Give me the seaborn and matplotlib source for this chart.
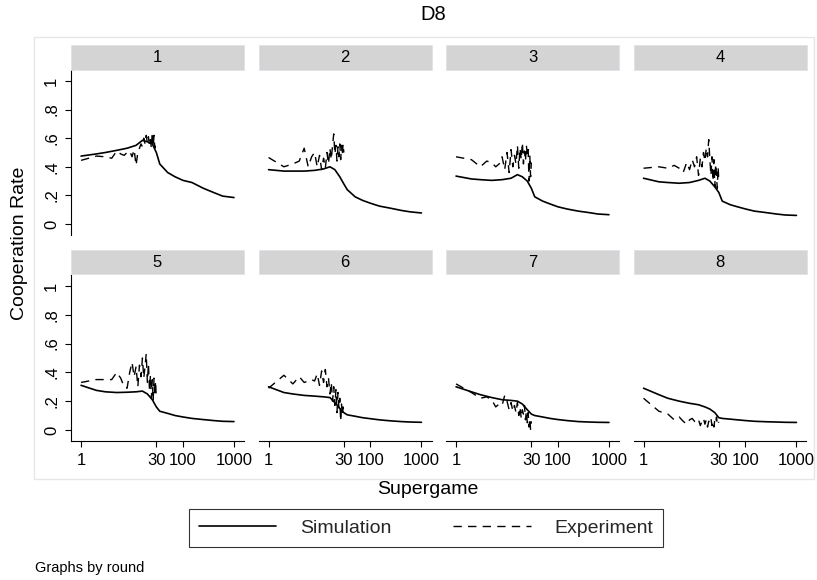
import matplotlib
matplotlib.use("Agg")
import matplotlib.pyplot as plt
from matplotlib.patches import Rectangle
from matplotlib.lines import Line2D
from matplotlib.ticker import FixedLocator, NullLocator, FixedFormatter
import numpy as np
import pandas as pd
import seaborn as sns

sns.set_theme(style="white")
plt.rcParams["font.family"] = ["Liberation Sans", "DejaVu Sans"]

# ---- data -------------------------------------------------------------
rounds = [1, 2, 3, 4, 5, 6, 7, 8]

sim_supergame = [1, 2, 3, 5, 8, 12, 16, 20, 25, 30, 35, 50, 70, 100, 150, 250, 400, 600, 1000]
sim_r1 = [0.475, 0.49, 0.50, 0.515, 0.53, 0.55, 0.585, 0.575, 0.56, 0.50, 0.42, 0.36, 0.33, 0.305, 0.29, 0.25, 0.22, 0.195, 0.185]
sim_r2 = [0.38, 0.37, 0.37, 0.37, 0.375, 0.385, 0.40, 0.38, 0.33, 0.28, 0.24, 0.19, 0.165, 0.145, 0.125, 0.11, 0.095, 0.085, 0.077]
sim_r3 = [0.335, 0.315, 0.31, 0.305, 0.31, 0.32, 0.345, 0.33, 0.30, 0.25, 0.19, 0.16, 0.14, 0.12, 0.105, 0.09, 0.08, 0.07, 0.065]
sim_r4 = [0.32, 0.295, 0.29, 0.285, 0.29, 0.305, 0.32, 0.30, 0.26, 0.22, 0.16, 0.135, 0.12, 0.105, 0.09, 0.08, 0.07, 0.063, 0.06]
sim_r5 = [0.31, 0.275, 0.265, 0.26, 0.262, 0.265, 0.27, 0.25, 0.21, 0.16, 0.13, 0.115, 0.10, 0.09, 0.08, 0.072, 0.065, 0.06, 0.058]
sim_r6 = [0.30, 0.26, 0.25, 0.24, 0.235, 0.23, 0.225, 0.19, 0.15, 0.12, 0.105, 0.095, 0.085, 0.078, 0.07, 0.063, 0.058, 0.055, 0.053]
sim_r7 = [0.30, 0.265, 0.245, 0.225, 0.21, 0.205, 0.20, 0.18, 0.14, 0.11, 0.10, 0.09, 0.08, 0.072, 0.065, 0.058, 0.055, 0.053, 0.052]
sim_r8 = [0.29, 0.245, 0.22, 0.20, 0.185, 0.175, 0.16, 0.145, 0.12, 0.085, 0.08, 0.075, 0.07, 0.065, 0.06, 0.057, 0.055, 0.053, 0.052]

exp_supergame = list(range(1, 31))
exp_r1 = [0.445, 0.475, 0.47, 0.46, 0.51, 0.49, 0.48, 0.50, 0.51, 0.47, 0.52, 0.41, 0.50, 0.53, 0.56,
          0.54, 0.60, 0.56, 0.62, 0.57, 0.61, 0.55, 0.59, 0.53, 0.64, 0.54, 0.62, 0.53, 0.57, 0.55]
exp_r2 = [0.465, 0.40, 0.42, 0.44, 0.53, 0.40, 0.47, 0.50, 0.40, 0.48, 0.38, 0.46, 0.39, 0.50, 0.42,
          0.53, 0.45, 0.55, 0.63, 0.49, 0.55, 0.44, 0.54, 0.47, 0.56, 0.45, 0.55, 0.48, 0.56, 0.50]
exp_r3 = [0.47, 0.45, 0.40, 0.44, 0.43, 0.40, 0.42, 0.47, 0.38, 0.50, 0.36, 0.52, 0.40, 0.48, 0.42,
          0.55, 0.39, 0.53, 0.45, 0.57, 0.42, 0.51, 0.44, 0.55, 0.48, 0.52, 0.30, 0.48, 0.33, 0.43]
exp_r4 = [0.39, 0.40, 0.39, 0.41, 0.39, 0.36, 0.43, 0.38, 0.45, 0.40, 0.47, 0.34, 0.46, 0.40, 0.50,
          0.44, 0.53, 0.47, 0.59, 0.45, 0.34, 0.47, 0.30, 0.45, 0.26, 0.42, 0.33, 0.25, 0.40, 0.30]
exp_r5 = [0.33, 0.35, 0.35, 0.35, 0.40, 0.36, 0.30, 0.29, 0.40, 0.47, 0.37, 0.44, 0.30, 0.45, 0.37,
          0.50, 0.36, 0.44, 0.53, 0.33, 0.46, 0.28, 0.38, 0.22, 0.35, 0.20, 0.36, 0.24, 0.34, 0.21]
exp_r6 = [0.29, 0.38, 0.32, 0.37, 0.33, 0.34, 0.35, 0.34, 0.39, 0.31, 0.41, 0.33, 0.42, 0.30, 0.36,
          0.25, 0.33, 0.20, 0.30, 0.17, 0.28, 0.12, 0.26, 0.15, 0.22, 0.06, 0.18, 0.10, 0.16, 0.12]
exp_r7 = [0.32, 0.26, 0.22, 0.23, 0.21, 0.16, 0.18, 0.17, 0.24, 0.20, 0.14, 0.19, 0.13, 0.17, 0.12,
          0.19, 0.10, 0.16, 0.08, 0.14, 0.11, 0.17, 0.07, 0.13, 0.05, 0.12, 0.02, 0.08, 0.00, 0.06]
exp_r8 = [0.22, 0.13, 0.11, 0.07, 0.09, 0.06, 0.04, 0.07, 0.08, 0.06, 0.05, 0.07, 0.03, 0.06, 0.08,
          0.04, 0.07, 0.02, 0.06, 0.05, 0.08, 0.03, 0.06, 0.02, 0.07, 0.05, 0.09, 0.04, 0.06, 0.05]

sim_series = [sim_r1, sim_r2, sim_r3, sim_r4, sim_r5, sim_r6, sim_r7, sim_r8]
exp_series = [exp_r1, exp_r2, exp_r3, exp_r4, exp_r5, exp_r6, exp_r7, exp_r8]

y_ticks = [0, 0.2, 0.4, 0.6, 0.8, 1]
y_tick_labels = ["0", ".2", ".4", ".6", ".8", "1"]
x_ticks = [1, 30, 100, 1000]
x_tick_labels = ["1", "30", "100", "1000"]

frames = []
for r, s, e in zip(rounds, sim_series, exp_series):
    frames.append(pd.DataFrame({"round": r, "supergame": sim_supergame, "rate": s, "series": "Simulation"}))
    frames.append(pd.DataFrame({"round": r, "supergame": exp_supergame, "rate": e, "series": "Experiment"}))
df = pd.concat(frames, ignore_index=True)

# ---- figure -----------------------------------------------------------
W, H = 817, 580
SIM_LW, EXP_LW = 1.2, 1.0
EXP_DASH = (0, (6, 4.5))


def draw(data, **kws):
    ax = plt.gca()
    sns.lineplot(data=data[data.series == "Simulation"], x="supergame", y="rate", ax=ax,
                 color="black", linewidth=SIM_LW, estimator=None, errorbar=None,
                 sort=True, legend=False)
    sns.lineplot(data=data[data.series == "Experiment"], x="supergame", y="rate", ax=ax,
                 color="black", linewidth=EXP_LW, linestyle=EXP_DASH, estimator=None,
                 errorbar=None, sort=True, legend=False)


g = sns.FacetGrid(df, col="round", col_wrap=4, sharex=True, sharey=True, height=2, aspect=1.0)
g.map_dataframe(draw)
fig = g.figure
fig.set_size_inches(W / 100, H / 100)
fig.set_dpi(100)
g.set_titles("")
g.set_axis_labels("", "")


def fx(px):
    return px / W


def fy(py):
    return 1 - py / H


# outer graph box
fig.patches.append(Rectangle((fx(34), fy(479)), fx(814) - fx(34), fy(37) - fy(479),
                             transform=fig.transFigure, facecolor="white",
                             edgecolor="#e6e6e6", linewidth=1.0, zorder=-5))

col_left = [71, 258.5, 446, 633.5]
panel_w = 173
row_top = [70, 275]
panel_h = [165, 166]
strip_h = 24.5

for i, ax in enumerate(g.axes.flat):
    row, col = divmod(i, 4)
    left, top = col_left[col], row_top[row]
    ax.set_position([fx(left), fy(top + panel_h[row]), fx(panel_w), panel_h[row] / H])
    ax.set_facecolor("white")
    ax.set_title("")
    ax.set_xlabel("")
    ax.set_ylabel("")

    ax.set_xscale("log")
    ax.set_xlim(0.635, 1574)
    ax.set_ylim(-0.077, 1.077)

    ax.xaxis.set_major_locator(FixedLocator(x_ticks))
    ax.xaxis.set_major_formatter(FixedFormatter(x_tick_labels))
    ax.xaxis.set_minor_locator(NullLocator())
    ax.yaxis.set_major_locator(FixedLocator(y_ticks))
    ax.yaxis.set_major_formatter(FixedFormatter(y_tick_labels))
    ax.yaxis.set_minor_locator(FixedLocator(y_ticks[:-1]))

    ax.grid(False)
    ax.yaxis.grid(True, which="minor", color="#e6e6e6", linewidth=0.9)
    ax.set_axisbelow(True)

    is_left = col == 0
    is_bottom = row == 1
    for name, sp in ax.spines.items():
        sp.set_visible(False)
        sp.set_color("black")
        sp.set_linewidth(0.8)
    ax.spines["left"].set_visible(is_left)
    ax.spines["bottom"].set_visible(is_bottom)

    ax.tick_params(axis="y", which="major", left=is_left, labelleft=is_left, length=4.5,
                   width=0.8, color="black", pad=4, labelsize=12, labelrotation=90,
                   labelcolor="black")
    ax.tick_params(axis="y", which="minor", left=False, length=0)
    ax.tick_params(axis="x", which="major", bottom=is_bottom, labelbottom=is_bottom,
                   length=4.5, width=0.8, color="black", pad=4, labelsize=12,
                   labelcolor="black")
    for lab in ax.get_yticklabels():
        lab.set_verticalalignment("center")

    # panel strip
    fig.patches.append(Rectangle((fx(left), fy(top - 0.5)), fx(panel_w), strip_h / H,
                                 transform=fig.transFigure, facecolor="#d4d4d4",
                                 edgecolor="#dde3e8", linewidth=0.6, zorder=1))
    fig.text(fx(left + panel_w / 2), fy(top - 0.5 - strip_h / 2), str(rounds[i]),
             ha="center", va="center", fontsize=12, color="black")

# titles and notes
fig.text(fx(433), fy(15), "D8", ha="center", va="center", fontsize=14.5, color="black")
fig.text(fx(20), fy(243), "Cooperation Rate", ha="center", va="center", rotation=90,
         fontsize=14, color="black")
fig.text(fx(428), fy(490), "Supergame", ha="center", va="center", fontsize=14, color="black")
fig.text(fx(35), fy(568), "Graphs by round", ha="left", va="center", fontsize=10.5, color="black")

handles = [Line2D([], [], color="black", linewidth=SIM_LW),
           Line2D([], [], color="black", linewidth=EXP_LW, linestyle=EXP_DASH)]
leg = fig.legend(handles, ["Simulation", "Experiment"], loc="center",
                 bbox_to_anchor=(fx(426), fy(528)), ncol=2, frameon=True, fancybox=False,
                 fontsize=14, handlelength=4.0, handletextpad=1.2, columnspacing=3.2,
                 borderpad=0.5)
leg.get_frame().set_edgecolor("black")
leg.get_frame().set_linewidth(0.8)
leg.get_frame().set_facecolor("white")

fig.savefig("out.png", dpi=100, facecolor="white")
